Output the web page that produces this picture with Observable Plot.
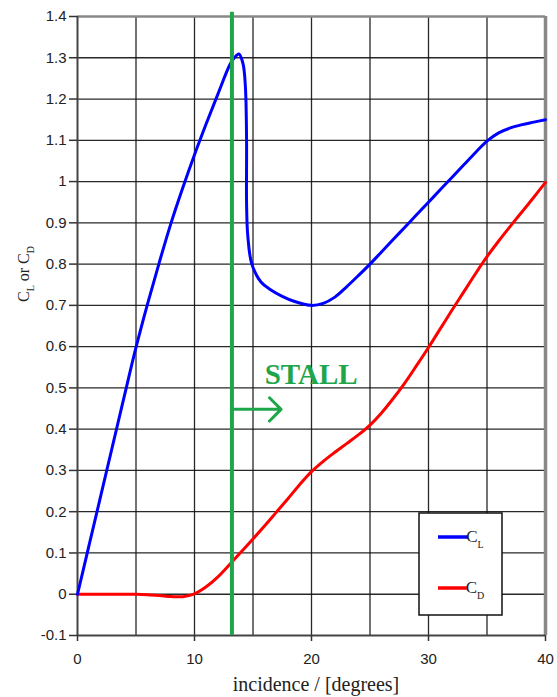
<!DOCTYPE html>
<html>
<head>
<meta charset="utf-8">
<script src="https://cdn.jsdelivr.net/npm/d3@7"></script>
<script src="https://cdn.jsdelivr.net/npm/@observablehq/plot@0.6"></script>
<style>
  html, body { margin: 0; padding: 0; background: #fff; }
  #chart svg { display: block; }
</style>
</head>
<body>
<div id="chart"></div>
<script>
// Incidence (degrees) and lift coefficient CL
const clAngle = [0,1,2,3,4,5,6,7,8,9,10,11,12,13,13.4,13.8,14.15,14.35,14.45,14.45,14.55,14.9,15.7,16.5,17.5,18.5,20,21,22,23,24,25,26,27,28,29,30,31,32,33,34,35,36,37,38,39,40];
const clValue = [0,0.12,0.24,0.36,0.48,0.598,0.705,0.805,0.90,0.985,1.065,1.14,1.212,1.282,1.30,1.309,1.285,1.23,1.1,0.95,0.87,0.80,0.756,0.738,0.722,0.71,0.70,0.705,0.72,0.745,0.772,0.80,0.83,0.86,0.89,0.92,0.95,0.98,1.01,1.04,1.07,1.098,1.118,1.13,1.138,1.144,1.15];
// Incidence (degrees) and drag coefficient CD
const cdAngle = [0,1,2,3,4,5,6,7,8,9,10,11,12,13,14,15,16,17,18,19,20,21,22,23,24,25,26,27,28,29,30,31,32,33,34,35,36,37,38,39,40];
const cdValue = [0,0,0,0,0,0,-0.001,-0.003,-0.0055,-0.006,0.001,0.018,0.042,0.072,0.103,0.134,0.166,0.199,0.232,0.266,0.297,0.322,0.344,0.365,0.386,0.41,0.44,0.475,0.513,0.555,0.598,0.643,0.688,0.732,0.776,0.818,0.856,0.892,0.927,0.962,0.998];
// Stall marker
const stallAngle = 13.2;
const stallArrowEnd = 17.4;
const stallArrowY = 0.448;
const stallLabel = "STALL";
const stallLabelPos = [16, 0.51];
// Ticks
const xTicks = [0,10,20,30,40];
const xGrid = [5,10,15,20,25,30,35];
const yTicks = [-0.1,0,0.1,0.2,0.3,0.4,0.5,0.6,0.7,0.8,0.9,1.0,1.1,1.2,1.3,1.4];
const yGrid = [0,0.1,0.2,0.3,0.4,0.5,0.6,0.7,0.8,0.9,1.0,1.1,1.2,1.3];
const xLabel = "incidence / [degrees]";

const clData = clAngle.map((a, i) => ({a, v: clValue[i]}));
const cdData = cdAngle.map((a, i) => ({a, v: cdValue[i]}));

const BLUE = "#0000ff", RED = "#ff0000", GREEN = "#1fa64a";

const plot = Plot.plot({
  width: 557,
  height: 697,
  marginLeft: 77,
  marginRight: 12,
  marginTop: 16,
  marginBottom: 62,
  style: {background: "#fff", fontFamily: "'Liberation Sans', Arial, sans-serif", fontSize: "15px", color: "#222"},
  x: {domain: [0, 40]},
  y: {domain: [-0.1, 1.4]},
  marks: [
    Plot.gridX(xGrid, {stroke: "#111", strokeOpacity: 0.9, strokeWidth: 1.3}),
    Plot.gridY(yGrid, {stroke: "#111", strokeOpacity: 0.9, strokeWidth: 1.3}),
    Plot.ruleY([1.4], {stroke: "#888", strokeWidth: 2.5}),
    Plot.ruleX([40], {stroke: "#888", strokeWidth: 3.5}),
    Plot.ruleX([0], {stroke: "#444", strokeWidth: 2}),
    Plot.ruleY([-0.1], {stroke: "#444", strokeWidth: 2}),
    Plot.axisX(xTicks, {tickSize: 6, tickPadding: 12, label: null, fill: "#222", stroke: "#333", strokeWidth: 1.5, fontSize: 15}),
    Plot.axisY(yTicks, {tickSize: 8, tickPadding: 3, label: null, fill: "#222", stroke: "#333", strokeWidth: 1.5, fontSize: 15,
      tickFormat: d => String(+d.toFixed(1))}),
    Plot.line(cdData, {x: "a", y: "v", stroke: RED, strokeWidth: 3, curve: "catmull-rom"}),
    Plot.line(clData, {x: "a", y: "v", stroke: BLUE, strokeWidth: 3, curve: "catmull-rom"}),
    Plot.ruleX([stallAngle], {y1: -0.1, y2: 1.41, stroke: GREEN, strokeWidth: 4}),
    Plot.arrow([{x1: stallAngle, x2: stallArrowEnd, y: stallArrowY}], {x1: "x1", x2: "x2", y1: "y", y2: "y", stroke: GREEN, strokeWidth: 3, headLength: 12, headAngle: 90}),
    Plot.text([stallLabel], {x: stallLabelPos[0], y: stallLabelPos[1], text: d => d, textAnchor: "start", lineAnchor: "bottom", fill: GREEN, fontSize: 29, fontWeight: "bold", fontFamily: "'Liberation Serif', 'Times New Roman', serif"})
  ]
});

document.getElementById("chart").appendChild(plot);

const svg = d3.select(plot);
const serif = "'Liberation Serif', 'Times New Roman', serif";

// x-axis title
svg.append("text")
  .attr("x", 316).attr("y", 691)
  .attr("text-anchor", "middle")
  .attr("font-family", serif).attr("font-size", 20).attr("fill", "#222")
  .text(xLabel);

// y-axis title with subscripts
const yl = svg.append("text")
  .attr("transform", "translate(29,274) rotate(-90)")
  .attr("text-anchor", "middle")
  .attr("font-family", serif).attr("font-size", 16).attr("fill", "#222");
yl.append("tspan").text("C");
yl.append("tspan").attr("font-size", 10).attr("dy", 5).text("L");
yl.append("tspan").attr("dy", -5).text(" or C");
yl.append("tspan").attr("font-size", 10).attr("dy", 5).text("D");

// legend
const lg = svg.append("g");
lg.append("rect").attr("x", 419).attr("y", 513).attr("width", 83).attr("height", 102)
  .attr("fill", "#fff").attr("stroke", "#111").attr("stroke-width", 1.5);
[["L", BLUE, 537], ["D", RED, 588]].forEach(([sub, col, y]) => {
  lg.append("line").attr("x1", 438).attr("x2", 468).attr("y1", y).attr("y2", y)
    .attr("stroke", col).attr("stroke-width", 3.5);
  const t = lg.append("text").attr("x", 475).attr("y", y + 5)
    .attr("font-family", serif).attr("font-size", 17).attr("fill", "#222");
  t.append("tspan").text("C");
  t.append("tspan").attr("font-size", 10).attr("dy", 6).text(sub);
});
</script>
</body>
</html>
